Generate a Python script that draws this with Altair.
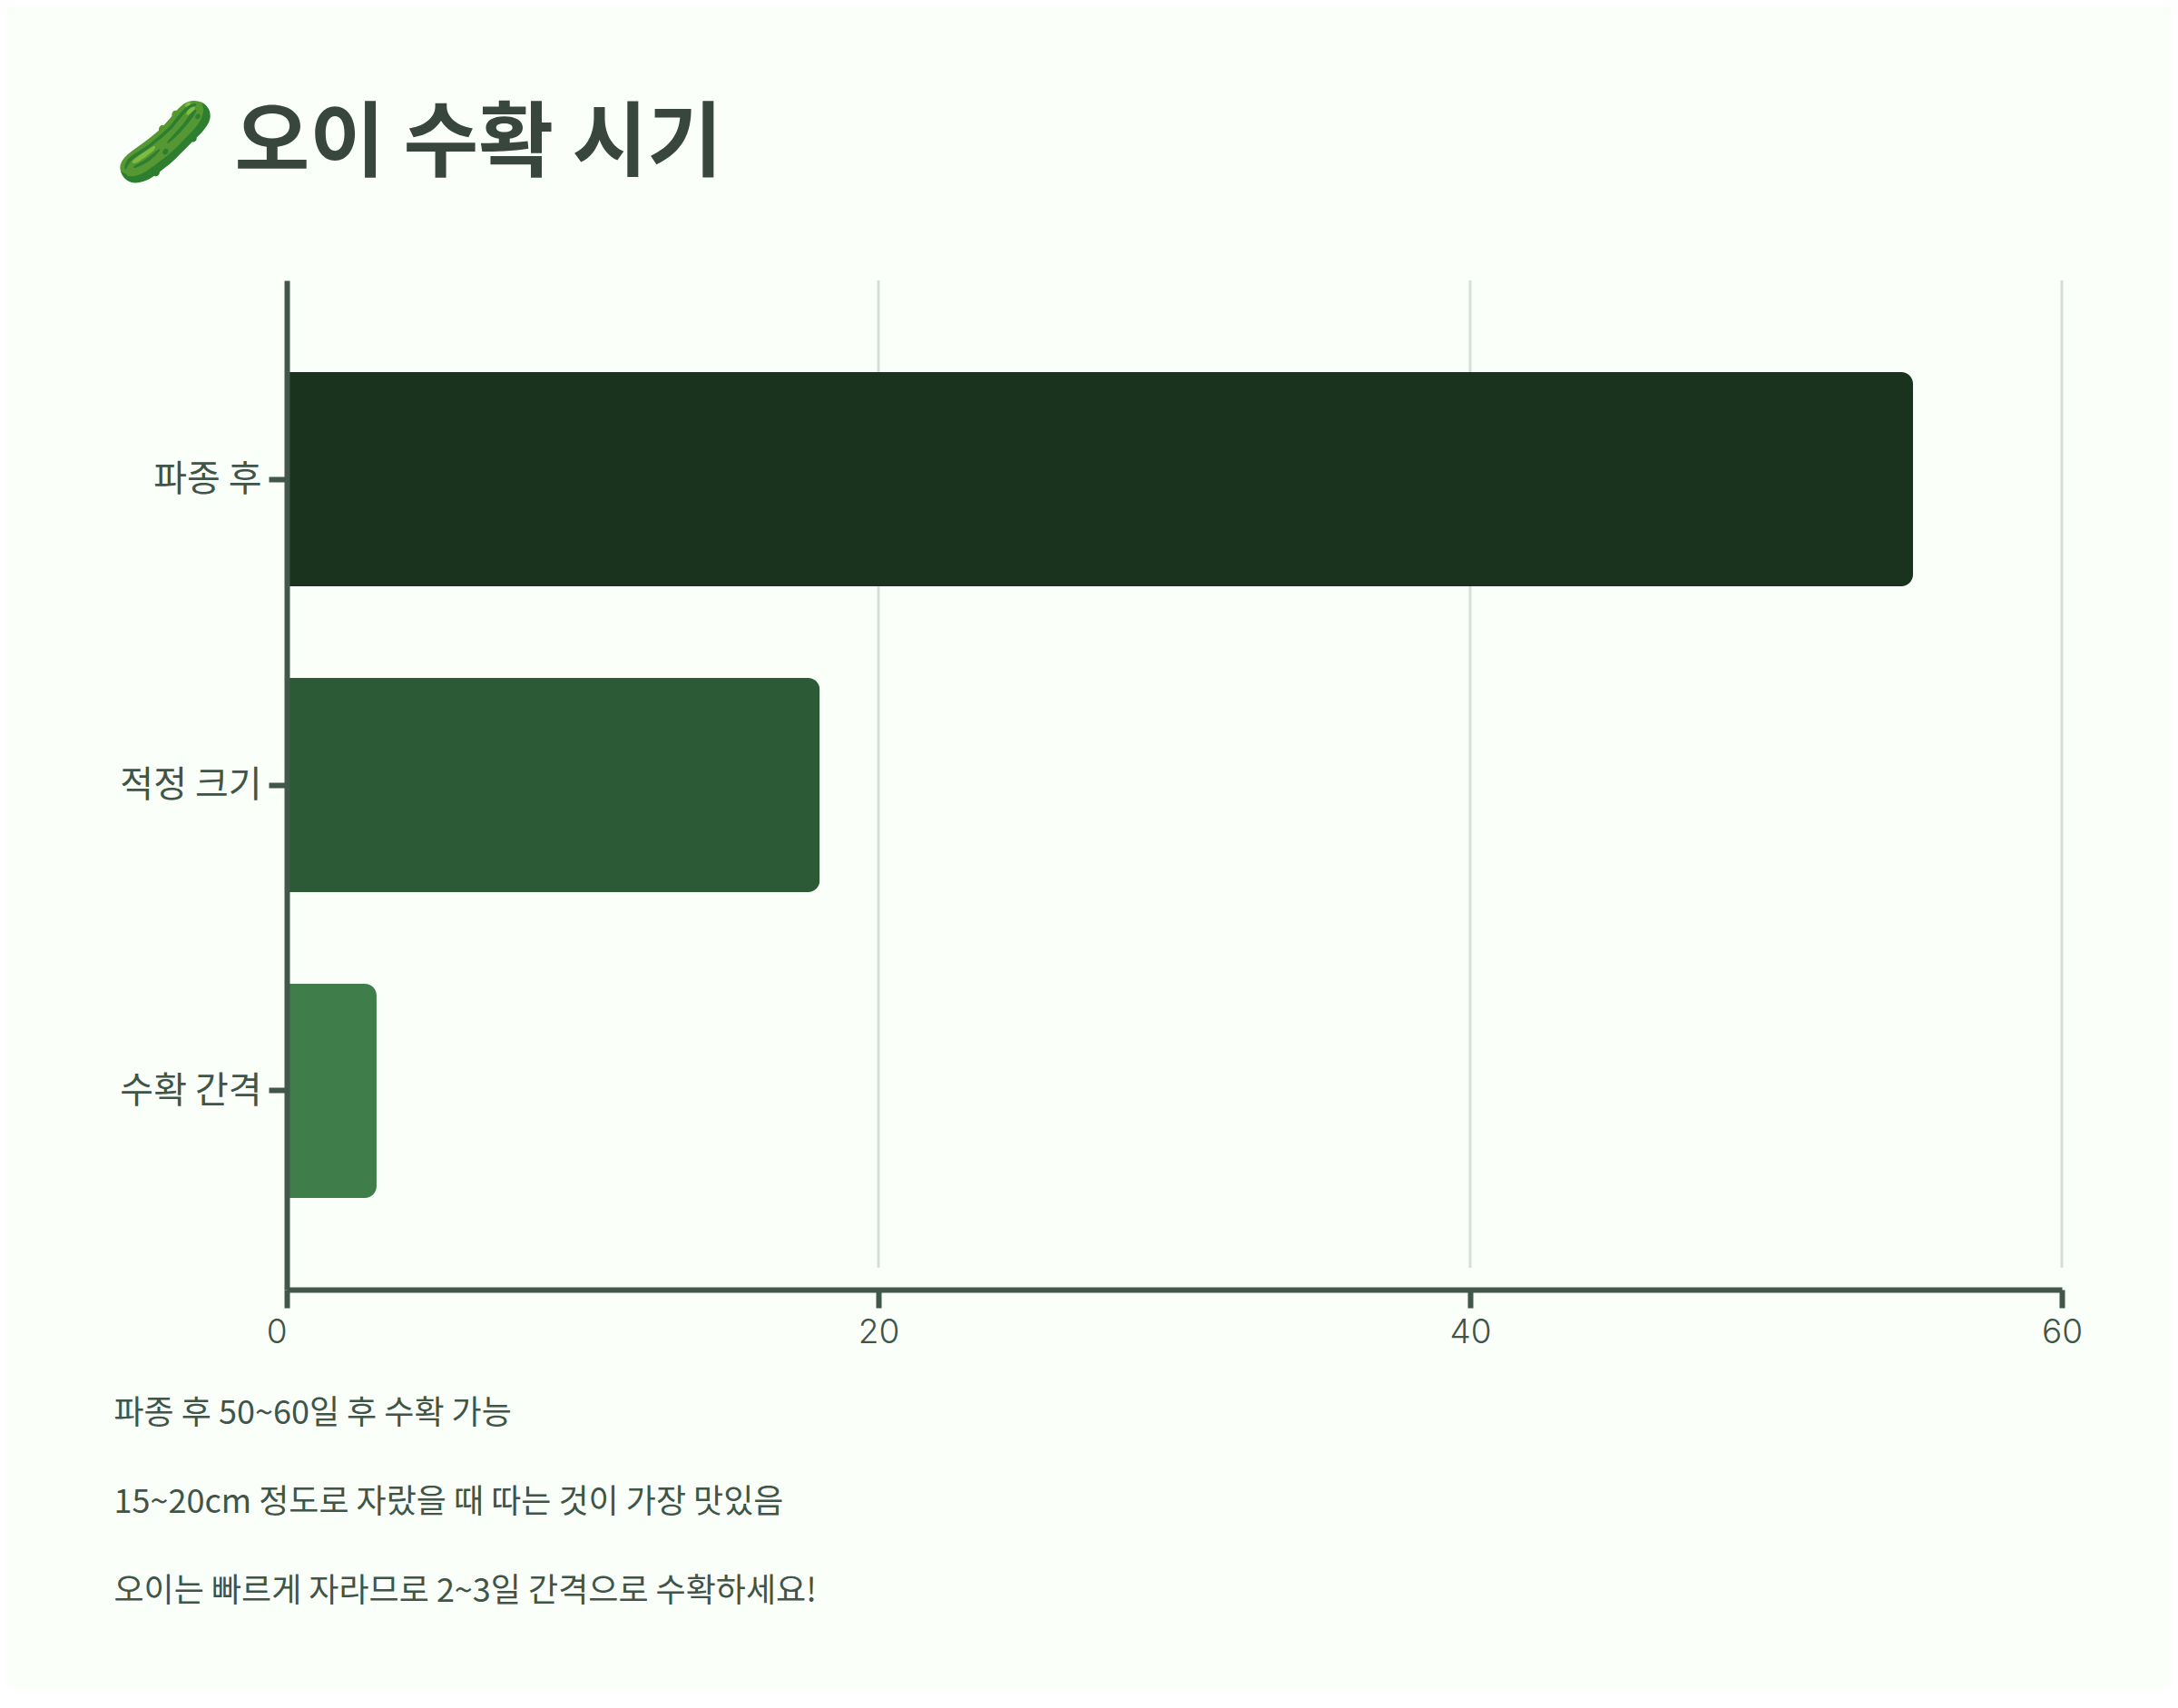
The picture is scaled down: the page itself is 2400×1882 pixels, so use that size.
import altair as alt
import pandas as pd

categories = ["파종 후", "적정 크기", "수확 간격"]
days = [55, 18, 3]
bar_colors = ["#1a331e", "#2d5a36", "#3f7d4b"]
x_ticks = [0, 20, 40, 60]
title_text = "🥒 오이 수확 시기"
notes = [
    "파종 후 50~60일 후 수확 가능",
    "15~20cm 정도로 자랐을 때 따는 것이 가장 맛있음",
    "오이는 빠르게 자라므로 2~3일 간격으로 수확하세요!",
]

BG = "#fbfffa"
AXIS = "#415749"
TEXT = "#3f5548"
FONT = "Noto Sans CJK KR"
W, H = 1956, 1112

df = pd.DataFrame({"cat": categories, "days": days})
grid_df = pd.DataFrame({"tick": x_ticks[1:]})

x_axis = alt.Axis(
    values=x_ticks,
    grid=False,
    zindex=1,
    domainColor=AXIS,
    domainWidth=6,
    tickColor=AXIS,
    tickWidth=6,
    tickSize=20,
    labelColor=TEXT,
    labelFont="Inter",
    labelFontSize=37,
    labelFontWeight=300,
    labelPadding=9,
    labelAlign={"condition": {"test": "datum.value == 0", "value": "right"}, "value": "center"},
    title=notes,
    titleFont=FONT,
    titleFontSize=36,
    titleFontWeight=400,
    titleColor=TEXT,
    titleLineHeight=98,
    titleAnchor="start",
    titleAlign="left",
    titleBaseline="top",
    titleX=-191,
    titleY=119,
)

grid = alt.Chart(grid_df).mark_rule(color="#d6dfd9", strokeWidth=3).encode(
    x=alt.X("tick:Q", scale=alt.Scale(domain=[0, 60], nice=False), axis=x_axis),
    y=alt.value(0),
    y2=alt.value(1088),
)

bars = alt.Chart(df).mark_bar(cornerRadiusEnd=13).encode(
    x=alt.X("days:Q", scale=alt.Scale(domain=[0, 60], nice=False, range=[1.3, 1954.8]), axis=None),
    y=alt.Y(
        "cat:N",
        sort=categories,
        scale=alt.Scale(paddingInner=0.3, paddingOuter=0.3),
        axis=alt.Axis(
            title=None,
            grid=False,
            zindex=1,
            domainColor=AXIS,
            domainWidth=6,
            tickColor=AXIS,
            tickWidth=6,
            tickSize=20,
            labelColor=TEXT,
            labelFont=FONT,
            labelFontSize=40,
            labelFontWeight=400,
            labelPadding=8,
            labelOffset=1,
        ),
    ),
    color=alt.Color("cat:N", sort=categories, scale=alt.Scale(domain=categories, range=bar_colors), legend=None),
)

chart = (
    alt.layer(grid, bars)
    .resolve_scale(x="independent")
    .properties(
        width=W,
        height=H,
        background=BG,
        autosize=alt.AutoSizeParams(type="none"),
        padding={"left": 308, "top": 301, "right": 120, "bottom": 440},
        title=alt.TitleParams(
            text=title_text,
            anchor="start",
            frame="group",
            font=FONT,
            fontSize=90,
            fontWeight=700,
            color="#38463e",
            baseline="alphabetic",
            dx=-190,
            offset=31,
        ),
    )
    .configure_view(stroke=None)
)

chart.save("out.html", embed_options={"renderer": "svg", "actions": False})
